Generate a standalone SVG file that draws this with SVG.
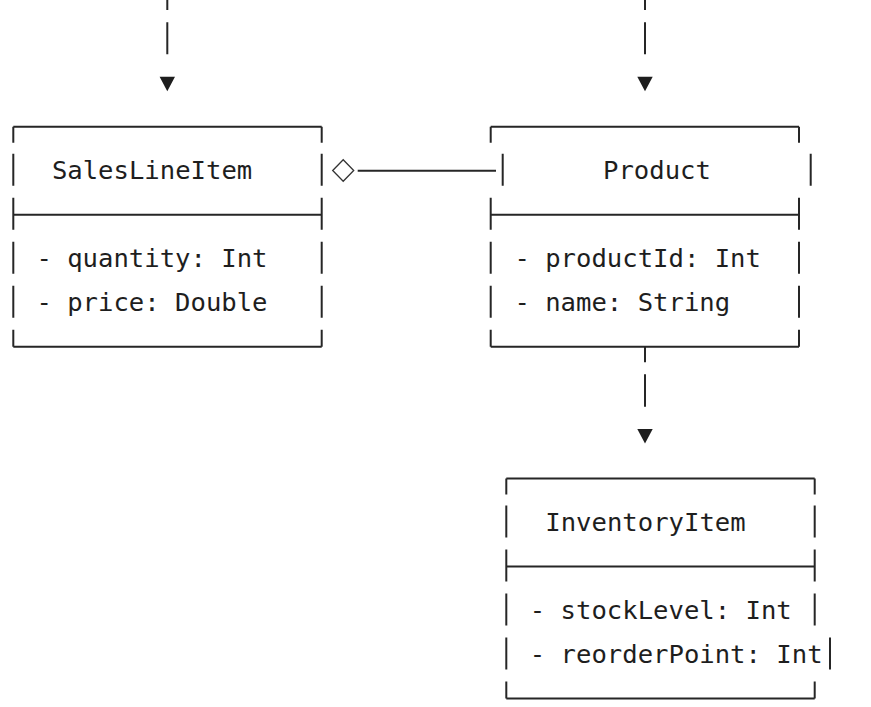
<svg xmlns="http://www.w3.org/2000/svg" width="871" height="707" viewBox="0 0 871 707">
<style>
  .ln { fill: none; stroke: #262626; stroke-width: 2; stroke-linecap: butt; }
  .tx { font-family: "DejaVu Sans Mono", "Liberation Mono", monospace; font-size: 25.6px; fill: #1e1e1e; }
  .ah { fill: #1e1e1e; stroke: none; }
  .dm { fill: #fff; stroke: #333; stroke-width: 1.3; }
</style>
<rect width="871" height="707" fill="#fff"/>

<g id="connectors">
  <!-- incoming to SalesLineItem -->
  <path class="ln" d="M167.3,0 V10 M167.3,22.3 V54.3"/>
  <polygon class="ah" points="159.6,76.8 175,76.8 167.3,91.3"/>
  <!-- incoming to Product -->
  <path class="ln" d="M645,0 V10 M645,22.3 V54.3"/>
  <polygon class="ah" points="637.3,76.8 652.7,76.8 645,91.3"/>
  <!-- Product to InventoryItem -->
  <path class="ln" d="M645,346.7 V362.3 M645,374.3 V406.7"/>
  <polygon class="ah" points="637.3,429 652.7,429 645,443.5"/>
  <!-- aggregation SalesLineItem <>— Product -->
  <polygon class="dm" points="332.7,170.5 343.2,159.8 353.7,170.5 343.2,181.2"/>
  <path class="ln" d="M357.7,170.7 H496"/>
</g>

<g id="SalesLineItem">
  <path class="ln" d="M13.3,126.7 H321.7 M13.3,214.7 H321.7 M13.3,346.7 H321.7"/>
  <path class="ln" d="M13.3,126.7 V142.7 M13.3,153.7 V185.7 M13.3,197.7 V229.7 M13.3,241.7 V273.7 M13.3,285.7 V317.7 M13.3,329.7 V346.7"/>
  <path class="ln" d="M321.7,126.7 V142.7 M321.7,153.7 V185.7 M321.7,197.7 V229.7 M321.7,241.7 V273.7 M321.7,285.7 V317.7 M321.7,329.7 V346.7"/>
  <text class="tx" x="51.9" y="179.3">SalesLineItem</text>
  <text class="tx" x="36.4" y="267.3">- quantity: Int</text>
  <text class="tx" x="36.4" y="311.3">- price: Double</text>
</g>

<g id="Product">
  <path class="ln" d="M490.7,126.7 H799 M490.7,214.7 H799 M490.7,346.7 H799"/>
  <path class="ln" d="M490.7,126.7 V142.7 M502.7,153.7 V185.7 M490.7,197.7 V229.7 M490.7,241.7 V273.7 M490.7,285.7 V317.7 M490.7,329.7 V346.7"/>
  <path class="ln" d="M799,126.7 V142.7 M810.7,153.7 V185.7 M799,197.7 V229.7 M799,241.7 V273.7 M799,285.7 V317.7 M799,329.7 V346.7"/>
  <text class="tx" x="603" y="179.3">Product</text>
  <text class="tx" x="514.4" y="267.3">- productId: Int</text>
  <text class="tx" x="514.4" y="311.3">- name: String</text>
</g>

<g id="InventoryItem">
  <path class="ln" d="M506.3,478.5 H814.7 M506.3,566.5 H814.7 M506.3,698.5 H814.7"/>
  <path class="ln" d="M506.3,478.5 V494.5 M506.3,505.5 V537.5 M506.3,549.5 V581.5 M506.3,593.5 V625.5 M506.3,637.5 V669.5 M506.3,681.5 V698.5"/>
  <path class="ln" d="M814.7,478.5 V494.5 M814.7,505.5 V537.5 M814.7,549.5 V581.5 M814.7,593.5 V625.5 M830,637.5 V669.5 M814.7,681.5 V698.5"/>
  <text class="tx" x="545.3" y="531.1">InventoryItem</text>
  <text class="tx" x="529.8" y="619.1">- stockLevel: Int</text>
  <text class="tx" x="529.8" y="663.1">- reorderPoint: Int</text>
</g>
</svg>
